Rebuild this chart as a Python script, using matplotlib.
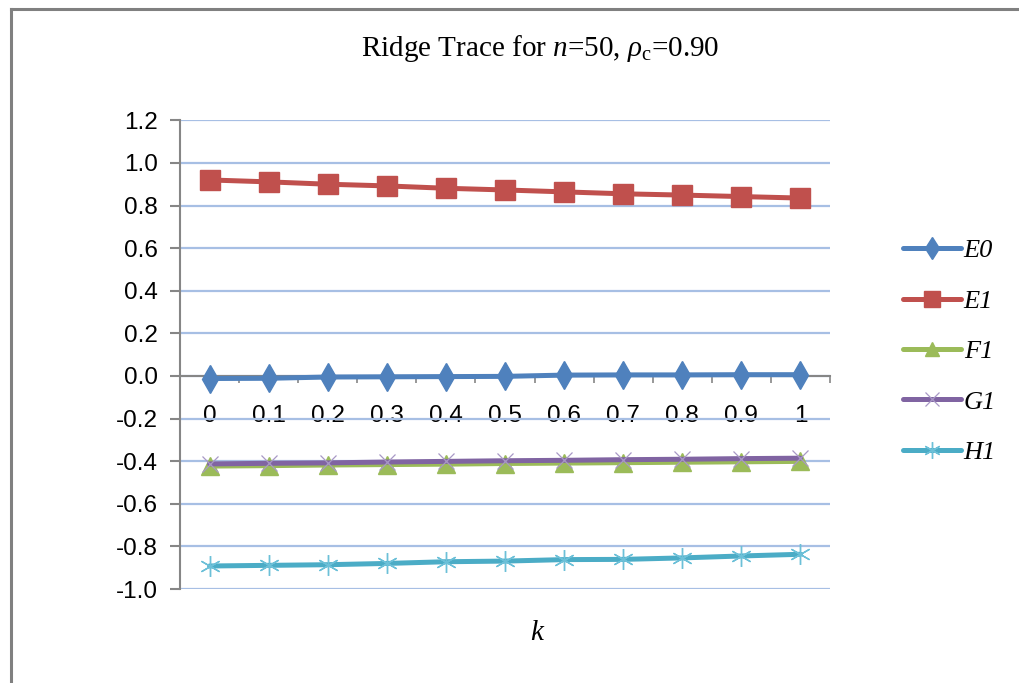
import matplotlib
matplotlib.use("Agg")
from matplotlib import pyplot as plt
from matplotlib.lines import Line2D
import numpy as np

plt.rcParams['font.family'] = ['Liberation Sans Narrow', 'Liberation Sans', 'DejaVu Sans']
plt.rcParams['axes.unicode_minus'] = False
plt.rcParams['mathtext.fontset'] = 'custom'
plt.rcParams['mathtext.rm'] = 'Liberation Serif'
plt.rcParams['mathtext.it'] = 'Liberation Serif:italic'

k = ["0", "0.1", "0.2", "0.3", "0.4", "0.5", "0.6", "0.7", "0.8", "0.9", "1"]

E0 = [-0.012, -0.011, -0.005, -0.004, -0.003, -0.002, 0.004, 0.005, 0.005, 0.006, 0.006]
E1 = [0.920, 0.911, 0.900, 0.892, 0.881, 0.873, 0.864, 0.855, 0.849, 0.842, 0.835]
F1 = [-0.423, -0.421, -0.418, -0.416, -0.414, -0.411, -0.409, -0.407, -0.405, -0.403, -0.401]
G1 = [-0.413, -0.410, -0.408, -0.404, -0.401, -0.398, -0.396, -0.393, -0.391, -0.388, -0.386]
H1 = [-0.892, -0.889, -0.886, -0.880, -0.872, -0.869, -0.862, -0.861, -0.854, -0.845, -0.837]

yticks = [-1.0, -0.8, -0.6, -0.4, -0.2, 0.0, 0.2, 0.4, 0.6, 0.8, 1.0, 1.2]

fig = plt.figure(figsize=(10.19, 6.83), dpi=100)
ax = fig.add_axes([180 / 1019, 1 - 589 / 683, 650 / 1019, (589 - 120.3) / 683])

x = np.arange(len(k))
series = [
    ("E0", E0, dict(color='#4F81BD', marker='d', markersize=14, mec='#4F81BD', mfc='#4F81BD')),
    ("E1", E1, dict(color='#C0504D', marker='s', markersize=15, mec='#C0504D', mfc='#C0504D')),
    ("F1", F1, dict(color='#9BBB59', marker='^', markersize=13, mec='#9BBB59', mfc='#9BBB59')),
    ("G1", G1, dict(color='#8064A2', marker='x', markersize=12, mec='#A898C6', mew=0.9)),
    ("H1", H1, dict(color='#4BACC6', marker=(6, 2, 0), markersize=15, mec='#6CC0D8', mew=1.0)),
]
for i, (name, vals, st) in enumerate(series):
    ax.plot(x, vals, linewidth=3.6, label=name, zorder=3 + i,
            solid_capstyle='round', **st)

ax.set_xlim(-0.5, len(k) - 0.5)
ax.set_ylim(-1.0, 1.2)

# horizontal gridlines
ax.set_yticks(yticks)
ax.set_yticklabels(["%.1f" % v for v in yticks])
ax.yaxis.grid(True, color='#A7BFE4', linewidth=1.6)
ax.set_axisbelow(True)
ax.tick_params(axis='y', direction='out', length=7, width=1.5, color='#868686',
               pad=9, labelsize=17.5)

# category axis crossing at zero
ax.set_xticks(x)
ax.set_xticklabels(k)
ax.set_xticks(np.arange(-0.5, len(k), 1.0), minor=True)
ax.tick_params(axis='x', which='major', length=0, pad=21, labelsize=17.5)
ax.tick_params(axis='x', which='minor', direction='out', length=5, width=1.2, color='#868686')
ax.spines['bottom'].set_position(('data', 0))
ax.spines['bottom'].set_color('#868686')
ax.spines['bottom'].set_linewidth(1.5)
ax.spines['left'].set_color('#868686')
ax.spines['left'].set_linewidth(1.5)
ax.spines['top'].set_visible(False)
ax.spines['right'].set_visible(False)

fig.text(540 / 1019, 1 - 48 / 683, r"Ridge Trace for $\mathit{n}$=50, $\mathit{\rho}_{\mathrm{c}}$=0.90",
         ha='center', va='center', fontfamily='Liberation Serif', fontsize=21)
fig.text(537 / 1019, 1 - 633 / 683, "k", ha='center', va='center',
         fontfamily='Liberation Serif', style='italic', fontsize=21)

leg = fig.legend(loc='upper left', bbox_to_anchor=(903 / 1019, 1 - 239 / 683),
                 frameon=False, borderpad=0, borderaxespad=0, handlelength=2.2,
                 handletextpad=0.1, labelspacing=1.02, markerscale=0.8,
                 prop=dict(family='Liberation Serif', style='italic', size=19))

# outer frame edges
fig.add_artist(Line2D([10.5 / 1019, 1], [1 - 8.5 / 683] * 2, color='#808080', lw=2.2))
fig.add_artist(Line2D([10.5 / 1019] * 2, [0, 1 - 8.5 / 683], color='#808080', lw=2.2))

plt.savefig("out.png", dpi=100)
plt.close()
